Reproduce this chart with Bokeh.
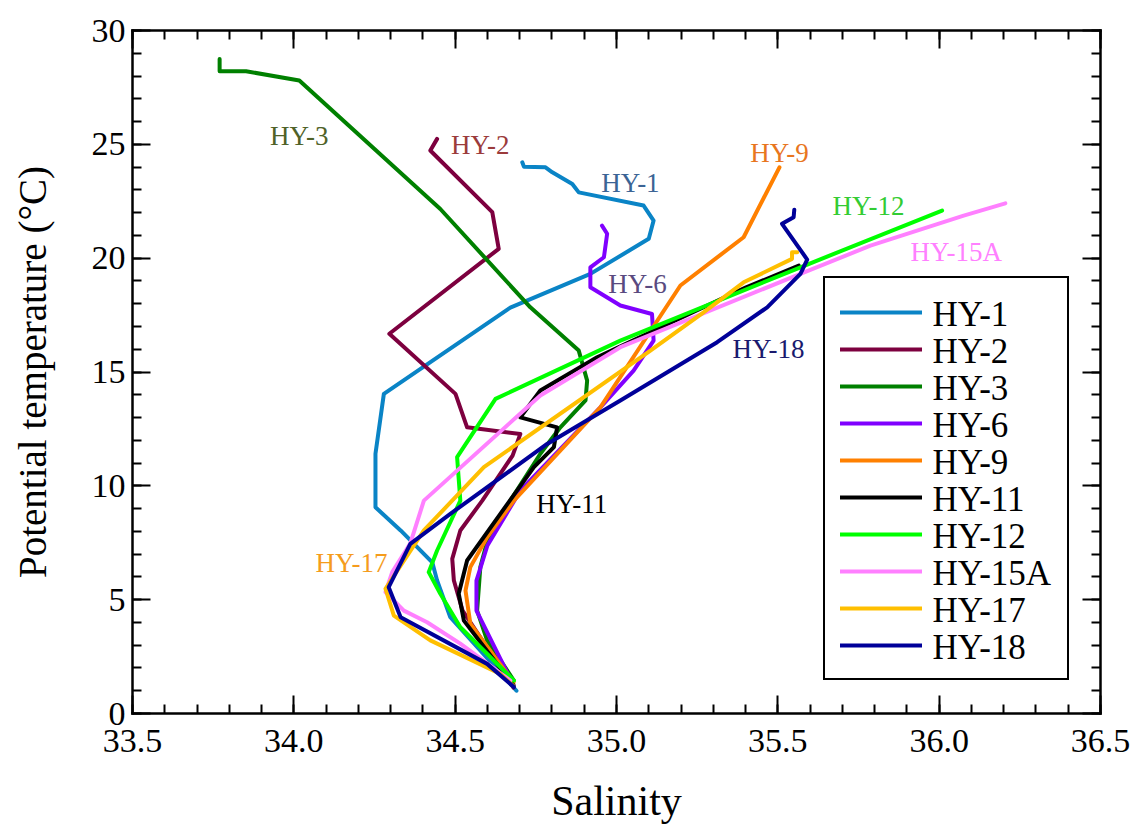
from bokeh.plotting import figure
from bokeh.models import (Range1d, SingleIntervalTicker, LinearAxis, CustomJSTickFormatter,
                          Legend, LegendItem)
from bokeh.embed import file_html
from bokeh.resources import INLINE
from bokeh.core.properties import value
import math

# ---------------- data (salinity, potential temperature) ----------------
hy1_sal = [34.708, 34.713, 34.780, 34.801, 34.863, 34.883, 35.084, 35.115, 35.100, 34.919, 34.671, 34.279, 34.253, 34.253, 34.331, 34.429, 34.444, 34.485, 34.690]
hy1_temp = [24.21, 24.02, 23.99, 23.77, 23.26, 22.89, 22.31, 21.65, 20.85, 19.31, 17.83, 14.04, 11.41, 9.06, 8.04, 6.64, 5.84, 4.23, 1.00]

hy2_sal = [34.444, 34.423, 34.615, 34.635, 34.296, 34.501, 34.537, 34.702, 34.678, 34.584, 34.516, 34.491, 34.496, 34.523, 34.681]
hy2_temp = [25.24, 24.73, 22.02, 20.41, 16.68, 14.04, 12.57, 12.28, 11.33, 9.35, 8.04, 6.79, 5.84, 4.52, 1.14]

hy3_sal = [33.770, 33.770, 33.852, 34.017, 34.454, 34.733, 34.883, 34.909, 34.904, 34.826, 34.764, 34.671, 34.600, 34.578, 34.568, 34.599, 34.682]
hy3_temp = [28.75, 28.21, 28.21, 27.80, 22.16, 17.84, 15.94, 14.62, 13.75, 12.57, 11.41, 9.35, 7.60, 6.43, 4.52, 3.21, 1.45]

hy6_sal = [34.955, 34.971, 34.961, 34.919, 34.919, 35.012, 35.110, 35.115, 35.053, 34.950, 34.702, 34.600, 34.566, 34.566, 34.681]
hy6_temp = [21.43, 21.07, 20.04, 19.60, 18.72, 17.92, 17.55, 16.38, 15.06, 13.45, 9.79, 7.38, 5.84, 4.52, 1.23]

hy9_sal = [35.505, 35.394, 35.198, 34.950, 34.682, 34.599, 34.547, 34.532, 34.547, 34.681]
hy9_temp = [23.99, 20.92, 18.80, 13.45, 9.35, 7.74, 6.43, 5.40, 3.95, 1.36]

hy11_sal = [35.565, 35.400, 34.940, 34.764, 34.702, 34.816, 34.806, 34.744, 34.640, 34.537, 34.511, 34.527, 34.681]
hy11_temp = [19.67, 18.71, 15.65, 14.19, 13.01, 12.57, 11.70, 10.82, 8.77, 6.72, 5.26, 4.08, 1.23]

hy12_sal = [36.009, 35.570, 35.012, 34.625, 34.506, 34.516, 34.444, 34.418, 34.454, 34.516, 34.682]
hy12_temp = [22.09, 19.60, 16.38, 13.82, 11.26, 9.35, 7.16, 6.21, 5.26, 3.79, 1.45]

hy15a_sal = [36.205, 36.076, 35.787, 35.570, 35.012, 34.764, 34.403, 34.361, 34.305, 34.284, 34.341, 34.413, 34.516, 34.671]
hy15a_temp = [22.41, 21.87, 20.55, 19.31, 16.09, 13.97, 9.35, 7.47, 6.21, 5.33, 4.52, 4.01, 3.07, 1.45]

hy17_sal = [35.560, 35.544, 35.544, 35.394, 35.270, 35.105, 34.589, 34.403, 34.284, 34.310, 34.423, 34.640, 34.681]
hy17_temp = [20.26, 20.26, 19.97, 18.94, 17.62, 15.94, 10.82, 8.04, 5.48, 4.30, 3.21, 1.74, 1.20]

hy18_sal = [35.551, 35.549, 35.513, 35.591, 35.570, 35.467, 35.312, 35.012, 34.785, 34.485, 34.361, 34.294, 34.331, 34.599, 34.682]
hy18_temp = [22.13, 21.80, 21.51, 19.94, 19.31, 17.84, 16.31, 13.75, 11.84, 8.77, 7.45, 5.55, 4.23, 2.18, 1.16]

station_names = ["HY-1", "HY-2", "HY-3", "HY-6", "HY-9", "HY-11", "HY-12", "HY-15A", "HY-17", "HY-18"]
station_sal = [hy1_sal, hy2_sal, hy3_sal, hy6_sal, hy9_sal, hy11_sal, hy12_sal, hy15a_sal, hy17_sal, hy18_sal]
station_temp = [hy1_temp, hy2_temp, hy3_temp, hy6_temp, hy9_temp, hy11_temp, hy12_temp, hy15a_temp, hy17_temp, hy18_temp]
station_colors = ["#0A84C6", "#7D003F", "#008000", "#8000FF", "#FF8000", "#000000", "#00FF00", "#FF80FF", "#FFBF00", "#000099"]

label_text = ["HY-3", "HY-2", "HY-1", "HY-9", "HY-12", "HY-15A", "HY-6", "HY-18", "HY-11", "HY-17"]
label_sal = [34.017, 34.578, 35.043, 35.505, 35.781, 36.053, 35.065, 35.471, 34.861, 34.179]
label_temp = [25.37, 24.96, 23.28, 24.60, 22.27, 20.28, 18.88, 16.03, 9.22, 6.63]
label_colors = ["#4F6228", "#9B3B3B", "#3B6495", "#E8761E", "#33CC33", "#FF80FF", "#5A4A80", "#1A1A6E", "#000000", "#F59C1C"]

x_tick_values = [33.5, 34.0, 34.5, 35.0, 35.5, 36.0, 36.5]
x_tick_labels = ["33.5", "34.0", "34.5", "35.0", "35.5", "36.0", "36.5"]
y_tick_values = [0, 5, 10, 15, 20, 25, 30]
y_tick_labels = ["0", "5", "10", "15", "20", "25", "30"]

x_title = "Salinity"
y_title = "Potential temperature (°C)"

FONT = "'Liberation Serif', 'Times New Roman', serif"

# ---------------- layout (pixels) ----------------
W, H = 1133, 830
FRAME_L, FRAME_R, FRAME_T, FRAME_B = 132, 1100, 30, 713   # plotting box inside the canvas
X_MIN, X_MAX = x_tick_values[0], x_tick_values[-1]
Y_MIN, Y_MAX = y_tick_values[0], y_tick_values[-1]
PPU_X = (FRAME_R - FRAME_L) / (X_MAX - X_MIN)
PPU_Y = (FRAME_B - FRAME_T) / (Y_MAX - Y_MIN)
x_range = Range1d(X_MIN - FRAME_L / PPU_X, X_MAX + (W - FRAME_R) / PPU_X)
y_range = Range1d(Y_MIN - (H - FRAME_B) / PPU_Y, Y_MAX + FRAME_T / PPU_Y)

p = figure(width=W, height=H, x_range=x_range, y_range=y_range,
           output_backend="svg", toolbar_location=None, min_border=0)
p.xgrid.visible = False
p.ygrid.visible = False
p.outline_line_color = None
p.background_fill_color = "white"
p.border_fill_color = "white"


def style_axis(ax, interval, loc, bounds):
    ax.fixed_location = loc
    ax.bounds = bounds
    ax.ticker = SingleIntervalTicker(interval=interval, num_minor_ticks=5)
    ax.axis_line_color = "black"
    ax.axis_line_width = 2.5
    ax.axis_line_cap = "square"
    ax.major_tick_in = 18
    ax.major_tick_out = 0
    ax.minor_tick_in = 9
    ax.minor_tick_out = 0
    ax.major_tick_line_width = 2
    ax.minor_tick_line_width = 2
    ax.major_tick_line_color = "black"
    ax.minor_tick_line_color = "black"
    ax.major_label_text_font_size = "0px"
    ax.formatter = CustomJSTickFormatter(code="return ''")
    ax.major_label_standoff = 0


x_int = x_tick_values[1] - x_tick_values[0]
y_int = y_tick_values[1] - y_tick_values[0]
style_axis(p.xaxis[0], x_int, Y_MIN, (X_MIN, X_MAX))
style_axis(p.yaxis[0], y_int, X_MIN, (Y_MIN, Y_MAX))
top_axis = LinearAxis()
style_axis(top_axis, x_int, Y_MAX, (X_MIN, X_MAX))
p.add_layout(top_axis, "above")
right_axis = LinearAxis()
style_axis(right_axis, y_int, X_MAX, (Y_MIN, Y_MAX))
p.add_layout(right_axis, "right")

# station profiles
renderers = []
for name, s, t, c in zip(station_names, station_sal, station_temp, station_colors):
    r = p.line(s, t, line_color=c, line_width=4, line_join="round", line_cap="round")
    renderers.append(r)

# in-plot station labels
p.text(x=label_sal, y=label_temp, text=label_text, text_color=label_colors,
       text_font=value(FONT), text_font_size="27px", text_align="center", text_baseline="middle")

# tick labels and axis titles (serif), placed just outside the plotting box
p.text(x=x_tick_values, y=[Y_MIN - 27 / PPU_Y] * len(x_tick_values), text=x_tick_labels,
       text_font=value(FONT), text_font_size="34px", text_color="black",
       text_align="center", text_baseline="middle")
p.text(x=[X_MIN - 7 / PPU_X] * len(y_tick_values), y=y_tick_values, text=y_tick_labels,
       text_font=value(FONT), text_font_size="34px", text_color="black",
       text_align="right", text_baseline="middle")
p.text(x=[(X_MIN + X_MAX) / 2], y=[Y_MIN - 87 / PPU_Y], text=[x_title],
       text_font=value(FONT), text_font_size="42px", text_color="black",
       text_align="center", text_baseline="middle")
p.text(x=[X_MIN - 100 / PPU_X], y=[(Y_MIN + Y_MAX) / 2], text=[y_title], angle=math.pi / 2,
       text_font=value(FONT), text_font_size="39px", text_color="black",
       text_align="center", text_baseline="middle")

# legend: Bokeh box + line samples (transparent fill), serif labels as text
LEG_LEFT, LEG_BOTTOM = 823, 680
LEG_PAD, ROW_H, GLYPH_W, STANDOFF, LABEL_W = 15, 37, 82, 10, 120
leg = Legend(items=[LegendItem(label=" ", renderers=[r]) for r in renderers],
             location=(LEG_LEFT, H - LEG_BOTTOM))
leg.border_line_color = "black"
leg.border_line_width = 2
leg.border_line_alpha = 1
leg.background_fill_alpha = 0
leg.label_text_font_size = "10px"
leg.glyph_width = GLYPH_W
leg.glyph_height = 20
leg.label_height = ROW_H
leg.label_width = LABEL_W
leg.label_standoff = STANDOFF
leg.padding = LEG_PAD
leg.spacing = 0
leg.margin = 0
p.add_layout(leg)

n = len(station_names)
text_px = LEG_LEFT + LEG_PAD + GLYPH_W + STANDOFF + 2
row_py = [LEG_BOTTOM - LEG_PAD - (n - 1 - i) * ROW_H - ROW_H / 2 for i in range(n)]
p.text(x=[x_range.start + text_px / PPU_X] * n,
       y=[y_range.end - py / PPU_Y for py in row_py],
       text=station_names, text_font=value(FONT), text_font_size="35px",
       text_color="black", text_align="left", text_baseline="middle")

with open("out.html", "w") as f:
    f.write(file_html(p, INLINE))
